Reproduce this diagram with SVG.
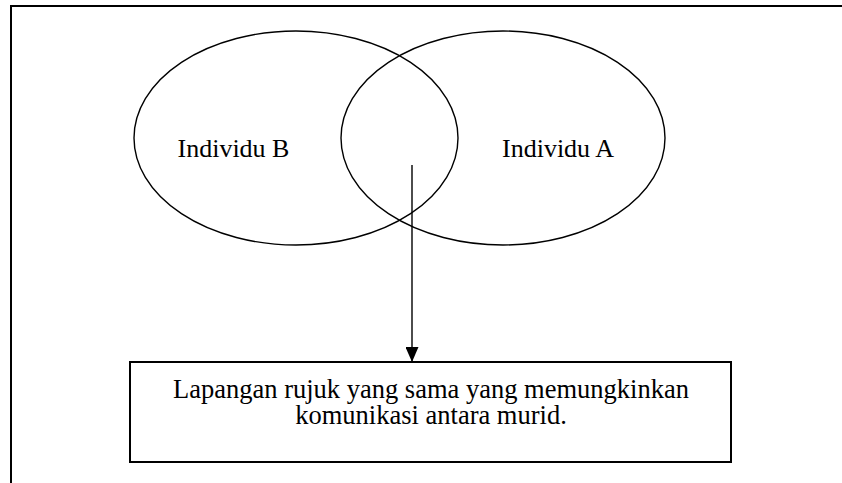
<svg xmlns="http://www.w3.org/2000/svg" width="842" height="483" viewBox="0 0 842 483">
<style>
.frame{stroke:#000;stroke-width:2;fill:none}
.ell{stroke:#000;stroke-width:1.4;fill:none}
.lbl{font-family:"Liberation Serif","Times New Roman",serif;font-size:26px;fill:#000;text-anchor:middle}
.conn{stroke:#000;stroke-width:1.4;fill:none}
</style>
<defs>
<marker id="arr" markerUnits="userSpaceOnUse" markerWidth="16" markerHeight="13" refX="15" refY="6.5" orient="auto">
<path d="M0,0 L15,6.5 L0,13 Z" fill="#000"/>
</marker>
</defs>
<rect width="842" height="483" fill="#fff"/>
<g id="frame">
<line class="frame" x1="10" y1="6" x2="842" y2="6"/>
<line class="frame" x1="11" y1="6" x2="11" y2="483"/>
</g>
<g id="individu-b">
<ellipse class="ell" cx="296" cy="138" rx="162" ry="107"/>
<text class="lbl" x="233.5" y="157">Individu B</text>
</g>
<g id="individu-a">
<ellipse class="ell" cx="503" cy="138" rx="162" ry="107"/>
<text class="lbl" x="558" y="157">Individu A</text>
</g>
<g id="lapangan">
<rect x="130" y="362" width="601" height="100" fill="#fff" stroke="#000" stroke-width="2"/>
<text class="lbl" style="font-size:26.5px" x="431" y="398">Lapangan rujuk yang sama yang memungkinkan</text>
<text class="lbl" style="font-size:26.5px" x="431" y="424">komunikasi antara murid.</text>
</g>
<g id="connectors">
<line class="conn" x1="412" y1="165" x2="412" y2="362" marker-end="url(#arr)"/>
</g>
</svg>
